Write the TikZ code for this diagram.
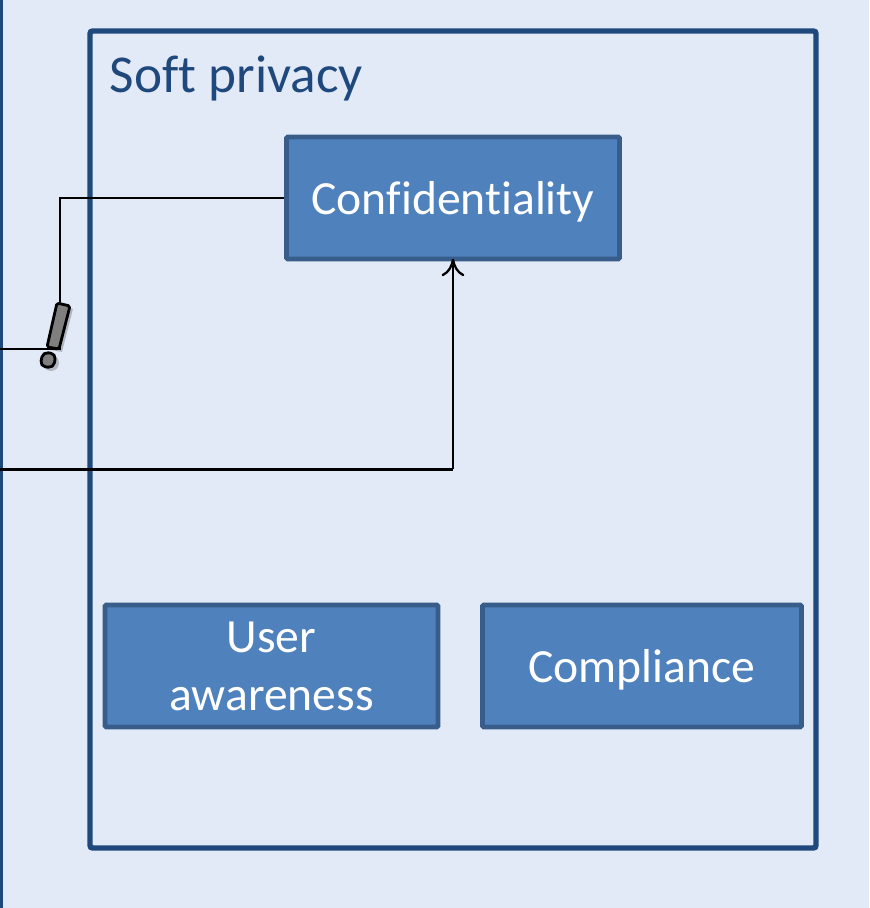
\documentclass[tikz,border=0pt]{standalone}
\usepackage{fontspec}
\setmainfont[Ligatures=CommonOff]{Carlito}
\usetikzlibrary{arrows.meta, positioning}

\definecolor{panelbg}{HTML}{E3EAF7}
\definecolor{framecol}{HTML}{1F497D}
\definecolor{boxfill}{HTML}{4F81BD}
\definecolor{boxline}{HTML}{385D8A}
\definecolor{markgray}{HTML}{7F7F7F}

\tikzset{
  goalbox/.style={draw=boxline, fill=boxfill, line width=2.8pt, rounded corners=0.8pt,
    text=white, font=\fontsize{27.1}{33}\selectfont, align=center, text depth=-2pt,
    minimum height=2.44cm, inner sep=0pt},
  softframe/.style={draw=framecol, line width=3.1pt, rounded corners=1.5pt,
    minimum width=14.52cm, minimum height=16.34cm},
  link/.style={draw=black, line width=1.3pt},
  markpart/.style={draw=black, fill=markgray, line width=1.6pt, line join=round},
  markshadow/.style={fill=black, opacity=0.22}
}

\begin{document}
\begin{tikzpicture}[>=stealth]
  \useasboundingbox[fill=panelbg] (0,0) rectangle (17.38,18.16);

  % left panel edge
  \draw[framecol, line width=3.1pt] (0,0) -- (0,18.16);

  % frame
  \node[softframe] (frame) at (9.06,9.37) {};
  \node[anchor=base west, text=framecol, font=\fontsize{30.3}{34}\selectfont, inner sep=0pt] (title) at (2.19,16.3) {Soft privacy};

  % goals
  \node[goalbox, minimum width=6.66cm] (conf) at (9.06,14.2) {Confidentiality};
  \node[goalbox, minimum width=6.66cm] (aware) at (5.43,4.84) {User\\awareness};
  \node[goalbox, minimum width=6.38cm] (comp) at (12.84,4.84) {Compliance};

  % incoming lines
  \coordinate (in1) at (0,11.18);
  \coordinate (in2) at (0,8.77);
  \coordinate (bend1) at (1.2,11.18);
  \coordinate (bend2) at (1.2,14.2);
  \coordinate (bend3) at (9.06,8.77);

  \draw[link] (in1) -- (bend1) -- (bend2) -- (conf.west);
  \draw[link] (in2) -- (bend3);
  \draw[link, arrows={-To[length=10pt,width=13pt]}, shorten >=-1.6pt] (bend3) -- (conf.south);

  % exclamation mark
  \fill[markshadow] (1.2,12.04) -- (1.46,11.98) -- (1.24,11.12) -- (1.0,11.16) -- cycle;
  \fill[markshadow] (1.02,10.9) circle (0.16);
  \draw[markpart, rounded corners=1pt] (1.14,12.1) -- (1.4,12.04) -- (1.18,11.18) -- (0.94,11.22) -- cycle;
  \draw[markpart, rounded corners=3pt] (0.86,11.12) -- (1.12,11.08) -- (1.07,10.8) -- (0.8,10.84) -- cycle;
  \draw[link] (in1) -- (bend1);
\end{tikzpicture}
\end{document}
